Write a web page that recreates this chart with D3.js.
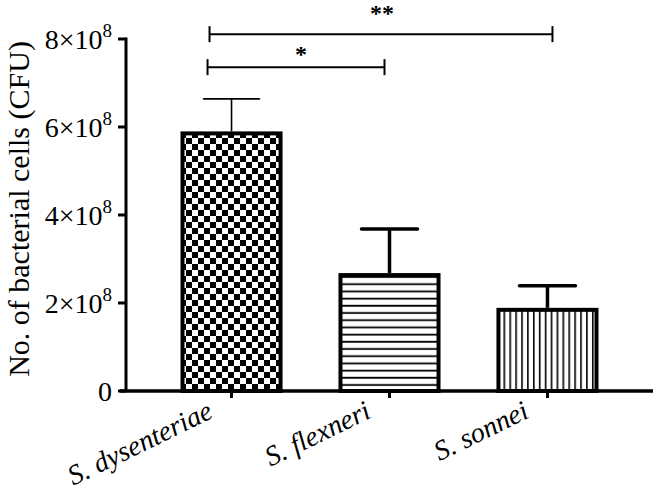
<!DOCTYPE html>
<html>
<head>
<meta charset="utf-8">
<script src="https://d3js.org/d3.v7.min.js"></script>
<style>
  body { margin: 0; background: #fff; }
  svg text { font-family: 'Liberation Serif', Tinos, 'Times New Roman', Times, serif; fill: #000; }
</style>
</head>
<body>
<script>
const categories = ['S. dysenteriae', 'S. flexneri', 'S. sonnei']
const means = [5.9e8, 2.68e8, 1.89e8]
const errors = [0.74e8, 1.0e8, 0.5e8]
const patterns = ['checker', 'hlines', 'vlines']
const yTicks = [0, 2e8, 4e8, 6e8, 8e8]
// significance brackets: [from, to, level, label]
const brackets = [
  [0, 2, 8.11e8, '**'],
  [0, 1, 7.36e8, '*']
]

const width = 660
const height = 493
const serif = "'Liberation Serif', Tinos, 'Times New Roman', Times, serif"

const svg = d3.select('body')
  .append('svg')
    .attr('width', width)
    .attr('height', height)

const x = d3.scaleBand().domain(categories).range([126, 653])
  .paddingInner(0.354).paddingOuter(0.345)
const y = d3.scaleLinear().domain([0, 8e8]).range([391, 39])

// fill patterns
const defs = svg.append('defs')
const checker = defs.append('pattern')
  .attr('id', 'checker').attr('patternUnits', 'userSpaceOnUse')
  .attr('width', 12).attr('height', 12)
checker.append('rect').attr('width', 12).attr('height', 12).attr('fill', '#fff')
checker.append('rect').attr('width', 6).attr('height', 6).attr('fill', '#000')
checker.append('rect').attr('x', 6).attr('y', 6).attr('width', 6).attr('height', 6).attr('fill', '#000')

const hl = defs.append('pattern')
  .attr('id', 'hlines').attr('patternUnits', 'userSpaceOnUse')
  .attr('width', 10).attr('height', 7.2)
hl.append('rect').attr('width', 10).attr('height', 7.2).attr('fill', '#fff')
hl.append('rect').attr('y', 2.5).attr('width', 10).attr('height', 1.8).attr('fill', '#000')

const vl = defs.append('pattern')
  .attr('id', 'vlines').attr('patternUnits', 'userSpaceOnUse')
  .attr('width', 5.9).attr('height', 10)
vl.append('rect').attr('width', 5.9).attr('height', 10).attr('fill', '#fff')
vl.append('rect').attr('x', 2).attr('width', 1.6).attr('height', 10).attr('fill', '#000')

// error bars (upward only)
categories.forEach((c, i) => {
  const cx = x(c) + x.bandwidth() / 2
  const sw = i === 0 ? 1.6 : 3.5
  svg.append('line')
    .attr('x1', cx).attr('x2', cx)
    .attr('y1', y(means[i])).attr('y2', y(means[i] + errors[i]))
    .attr('stroke', '#000').attr('stroke-width', sw)
  svg.append('line')
    .attr('x1', cx - 28).attr('x2', cx + 28)
    .attr('y1', y(means[i] + errors[i])).attr('y2', y(means[i] + errors[i]))
    .attr('stroke', '#000').attr('stroke-width', sw).attr('stroke-linecap', 'round')
})

// bars
svg.selectAll('rect.bar')
  .data(categories)
  .enter()
    .append('rect')
    .attr('class', 'bar')
    .attr('x', (d) => x(d) + 2)
    .attr('y', (d, i) => y(means[i]) + 2)
    .attr('width', x.bandwidth() - 4)
    .attr('height', (d, i) => y(0) - y(means[i]) - 2)
    .attr('fill', (d, i) => 'url(#' + patterns[i] + ')')
    .attr('stroke', '#000')
    .attr('stroke-width', 4)

// y axis
svg.append('line')
  .attr('x1', 126).attr('x2', 126).attr('y1', y(8e8) - 1.5).attr('y2', y(0))
  .attr('stroke', '#000').attr('stroke-width', 3)
yTicks.forEach((t) => {
  svg.append('line')
    .attr('x1', 118).attr('x2', 126).attr('y1', y(t)).attr('y2', y(t))
    .attr('stroke', '#000').attr('stroke-width', 3)
  const lab = svg.append('text')
    .attr('x', 112).attr('y', y(t) + 10)
    .attr('text-anchor', 'end')
    .attr('font-family', serif)
    .attr('font-size', 28)
  if (t === 0) {
    lab.text('0')
  } else {
    const m = t / 1e8
    lab.append('tspan').text(m + '×10')
    lab.append('tspan').attr('dy', -12).attr('font-size', 19).text('8')
  }
})

svg.append('text')
  .attr('transform', 'translate(29,' + ((y(0) + y(8e8)) / 2 - 6) + ') rotate(-90)')
  .attr('text-anchor', 'middle')
  .attr('font-family', serif)
  .attr('font-size', 30)
  .text('No. of bacterial cells (CFU)')

// x axis
svg.append('line')
  .attr('x1', 120).attr('x2', 653).attr('y1', y(0)).attr('y2', y(0))
  .attr('stroke', '#000').attr('stroke-width', 3.5)
categories.forEach((c) => {
  const cx = x(c) + x.bandwidth() / 2
  svg.append('line')
    .attr('x1', cx).attr('x2', cx).attr('y1', y(0)).attr('y2', y(0) + 7)
    .attr('stroke', '#000').attr('stroke-width', 3)
  svg.append('text')
    .attr('transform', 'translate(' + (cx - 17) + ',' + (y(0) + 26) + ') rotate(-26)')
    .attr('text-anchor', 'end')
    .attr('font-family', serif)
    .attr('font-size', 28)
    .attr('font-style', 'italic')
    .text(c)
})

// significance brackets
brackets.forEach(([a, b, lvl, label], k) => {
  const x1 = x(categories[a]) + x.bandwidth() / 2 - (k === 0 ? 22 : 24)
  const x2 = x(categories[b]) + x.bandwidth() / 2 + (k === 0 ? 5 : -5)
  const by = y(lvl)
  svg.append('line').attr('x1', x1).attr('x2', x2).attr('y1', by).attr('y2', by)
    .attr('stroke', '#000').attr('stroke-width', 2)
  ;[x1, x2].forEach((ex) => {
    svg.append('line').attr('x1', ex).attr('x2', ex).attr('y1', by - 8).attr('y2', by + 8)
      .attr('stroke', '#000').attr('stroke-width', 2)
  })
  svg.append('text')
    .attr('x', (x1 + x2) / 2 + (k === 0 ? 1 : 5)).attr('y', by - (k === 0 ? 13 : 5))
    .attr('text-anchor', 'middle')
    .attr('font-family', serif)
    .attr('font-size', 24)
    .attr('font-weight', 'bold')
    .text(label)
})
</script>
</body>
</html>
